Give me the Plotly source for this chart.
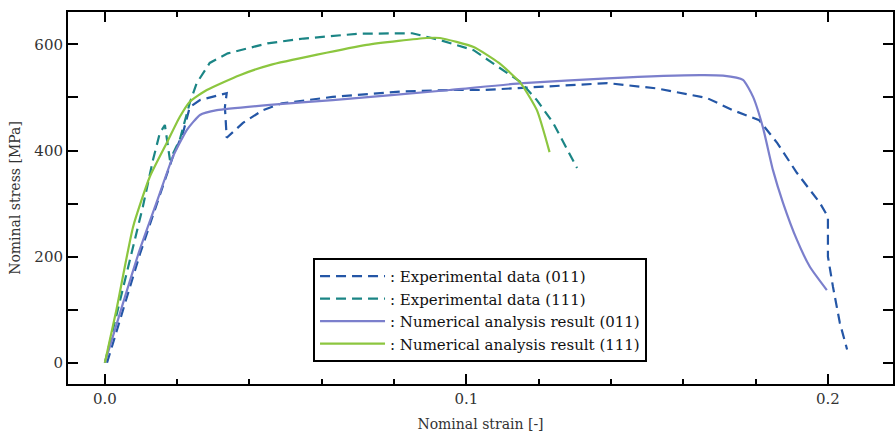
import plotly.graph_objects as go

# Experimental data (011)
exp011_x = [0.0006, 0.005, 0.0097, 0.0144, 0.0188, 0.0216, 0.0235, 0.0263, 0.0337,
            0.0332, 0.0337, 0.0382, 0.0437, 0.049, 0.063, 0.0816, 0.0954, 0.1046, 0.120, 0.139, 0.1527,
            0.1665, 0.1737, 0.181, 0.186, 0.1914, 0.1978, 0.2, 0.2, 0.2014, 0.2033, 0.2053]
exp011_y = [0, 100, 205, 300, 388, 433, 482, 495, 508,
            482, 424, 452, 476, 489, 501, 511, 514, 514, 520, 527, 517,
            499, 476, 457, 414, 358, 301, 275, 200, 143, 75, 25]

# Experimental data (111)
exp111_x = [0.0, 0.0045, 0.0088, 0.0105, 0.0133, 0.0152, 0.0166, 0.018, 0.0207, 0.0235, 0.0254, 0.029,
            0.034, 0.045, 0.055, 0.07, 0.085, 0.0927, 0.102, 0.108, 0.115, 0.1195, 0.124, 0.1306]
exp111_y = [0, 125, 245, 294, 382, 433, 448, 382, 420, 490, 527, 565,
            583, 602, 611, 620, 621, 608, 589, 561, 529, 495, 452, 367]

# Numerical analysis result (011)
num011_x = [0.0, 0.005, 0.0097, 0.0144, 0.0188, 0.0227, 0.0263, 0.031, 0.0456, 0.063,
            0.0954, 0.1157, 0.139, 0.1646, 0.171, 0.1765, 0.1793, 0.182, 0.1848, 0.1876,
            0.1914, 0.195, 0.1997]
num011_y = [0, 112, 214, 304, 388, 439, 467, 476, 486, 495,
            514, 527, 536, 542, 541, 533, 501, 444, 363, 301,
            232, 181, 137]

# Numerical analysis result (111)
num111_x = [0.0, 0.0032, 0.0078, 0.0124, 0.0171, 0.0207, 0.0235, 0.0282, 0.0373, 0.0456, 0.0724,
            0.089, 0.0927, 0.102, 0.109, 0.115, 0.1195, 0.123]
num111_y = [0, 100, 256, 350, 414, 463, 492, 514, 542, 561, 599,
            612, 612, 595, 565, 527, 476, 397]

names = [": Experimental data (011)", ": Experimental data (111)",
         ": Numerical analysis result (011)", ": Numerical analysis result (111)"]

FONT = "'DejaVu Serif', serif"
fig = go.Figure()
fig.add_trace(go.Scatter(x=exp011_x, y=exp011_y, mode="lines", name=names[0],
                         line=dict(color="#2456a6", width=2.2, dash="10px,6px")))
fig.add_trace(go.Scatter(x=exp111_x, y=exp111_y, mode="lines", name=names[1],
                         line=dict(color="#1b8585", width=2.2, dash="10px,6px")))
fig.add_trace(go.Scatter(x=num011_x, y=num011_y, mode="lines", name=names[2],
                         line=dict(color="#7b7fcc", width=2.2, shape="spline", smoothing=0.5)))
fig.add_trace(go.Scatter(x=num111_x, y=num111_y, mode="lines", name=names[3],
                         line=dict(color="#8cc63f", width=2.2, shape="spline", smoothing=0.5)))

axis_common = dict(showline=True, linecolor="black", linewidth=2, mirror="allticks",
                   ticks="inside", ticklen=10, tickwidth=2, tickcolor="black",
                   showgrid=False, zeroline=False, automargin=False,
                   tickfont=dict(family=FONT, size=15, color="#333"))

fig.update_xaxes(range=[-0.0102, 0.218], tickvals=[0.0, 0.1, 0.2], ticktext=["0.0", "0.1", "0.2"],
                 minor=dict(dtick=0.02, tick0=0, ticks="inside", ticklen=5, tickwidth=2, tickcolor="black"),
                 title=dict(text="Nominal strain [-]", font=dict(family=FONT, size=14, color="#333"), standoff=12),
                 **axis_common)
fig.update_yaxes(range=[-40, 661], tickvals=[0, 200, 400, 600],
                 minor=dict(dtick=100, tick0=0, ticks="inside", ticklen=10, tickwidth=2, tickcolor="black"),
                 title=dict(text="Nominal stress [MPa]", font=dict(family=FONT, size=14, color="#333"), standoff=10),
                 **axis_common)

fig.update_layout(
    width=895, height=434,
    margin=dict(l=68, r=2, t=12, b=50),
    paper_bgcolor="white", plot_bgcolor="white",
    showlegend=True,
    legend=dict(x=0.297, y=0.339, xanchor="left", yanchor="top",
                bordercolor="black", borderwidth=2, bgcolor="white",
                font=dict(family=FONT, size=15, color="#111"),
                itemwidth=65, tracegroupgap=0),
)

fig.write_html("out.html", config={"displayModeBar": False},
               post_script="document.body.style.margin='0px';")
